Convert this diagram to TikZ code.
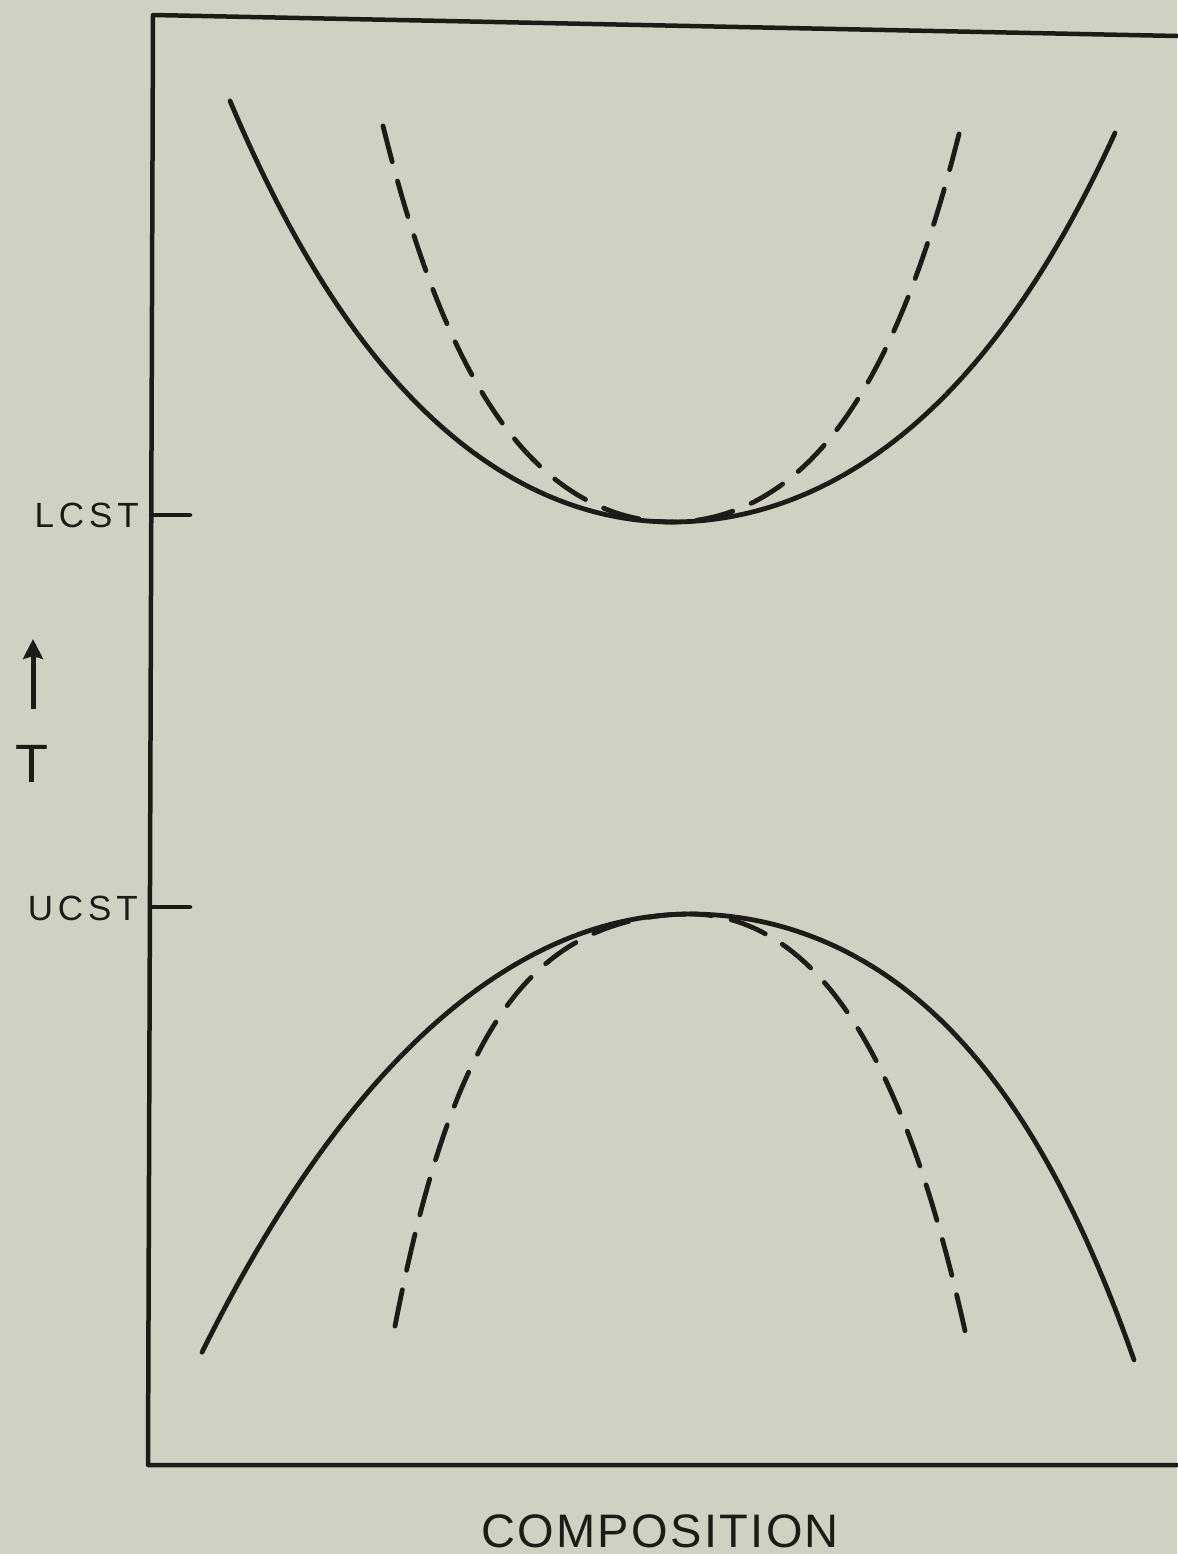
\documentclass[tikz,border=0pt]{standalone}
\usepackage{fontspec}
\usetikzlibrary{arrows.meta}
\setmainfont{Liberation Sans}
\newfontfamily\lblfont[LetterSpace=14]{Liberation Sans}
\newfontfamily\compfont[LetterSpace=5]{Liberation Sans}
\definecolor{bgc}{RGB}{207,210,194}
\definecolor{ink}{RGB}{30,26,24}
\begin{document}
\begin{tikzpicture}[x=1pt,y=-1pt,
  frame/.style={draw=ink,line width=4.5pt,line join=round,line cap=round},
  curve/.style={draw=ink,line width=4.8pt,line cap=round,line join=round},
  dcurve/.style={curve,dash pattern=on 37pt off 20pt},
  lbl/.style={text=ink,font=\lblfont\fontsize{35}{35}\selectfont,inner sep=0pt},
  ax/.style={text=ink,font=\fontsize{54}{54}\selectfont,inner sep=0pt}]
\fill[bgc] (0,0) rectangle (1177,1554);
\useasboundingbox (0,0) rectangle (1177,1554);
% frame
\draw[frame] (1177,36) -- (153,15) -- (148,1465) -- (1177,1465);
% ticks
\coordinate (l0) at (151,515);
\coordinate (l1) at (190,515);
\coordinate (u0) at (150,907);
\coordinate (u1) at (190,907);
\draw[frame] (l0) -- (l1);
\draw[frame] (u0) -- (u1);
\node[lbl,anchor=east] (lcst) at (139,515) {LCST};
\node[lbl,anchor=east] (ucst) at (138,908) {UCST};
% T axis
\node[ax,anchor=base] (tl) at (32,782) {T};
\coordinate (a0) at (33,709);
\coordinate (a1) at (33,639);
\draw[draw=ink,line width=5pt,-{Stealth[length=20pt,width=20pt,inset=3pt]}] (a0) -- (a1);
\node[ax,anchor=base,font=\compfont\fontsize{47}{47}\selectfont] (comp) at (660,1547) {COMPOSITION};
% upper solid
\draw[curve] plot[domain=230:1115,samples=150]
  (\x,{522-ifthenelse(\x<672,209,192)*(cosh((\x-672)/250)-1)});
% upper dashed (each branch drawn from its outer end)
\draw[dcurve] plot[domain=383:672,samples=90]
  (\x,{522-76*(cosh((\x-672)/115)-1)});
\draw[dcurve] plot[domain=959:672,samples=90]
  (\x,{522-76*(cosh((\x-672)/115)-1)});
% lower solid
\draw[curve] plot[domain=202:1134,samples=150]
  (\x,{914+ifthenelse(\x<690,521,105.6)*(cosh((\x-690)/ifthenelse(\x<690,400,190))-1)});
% lower dashed
\draw[dcurve] plot[domain=395:690,samples=90]
  (\x,{914+27.3*(cosh((\x-690)/85)-1)});
\draw[dcurve] plot[domain=965:690,samples=90]
  (\x,{914+81.2*(cosh((\x-690)/110)-1)});
\end{tikzpicture}
\end{document}
